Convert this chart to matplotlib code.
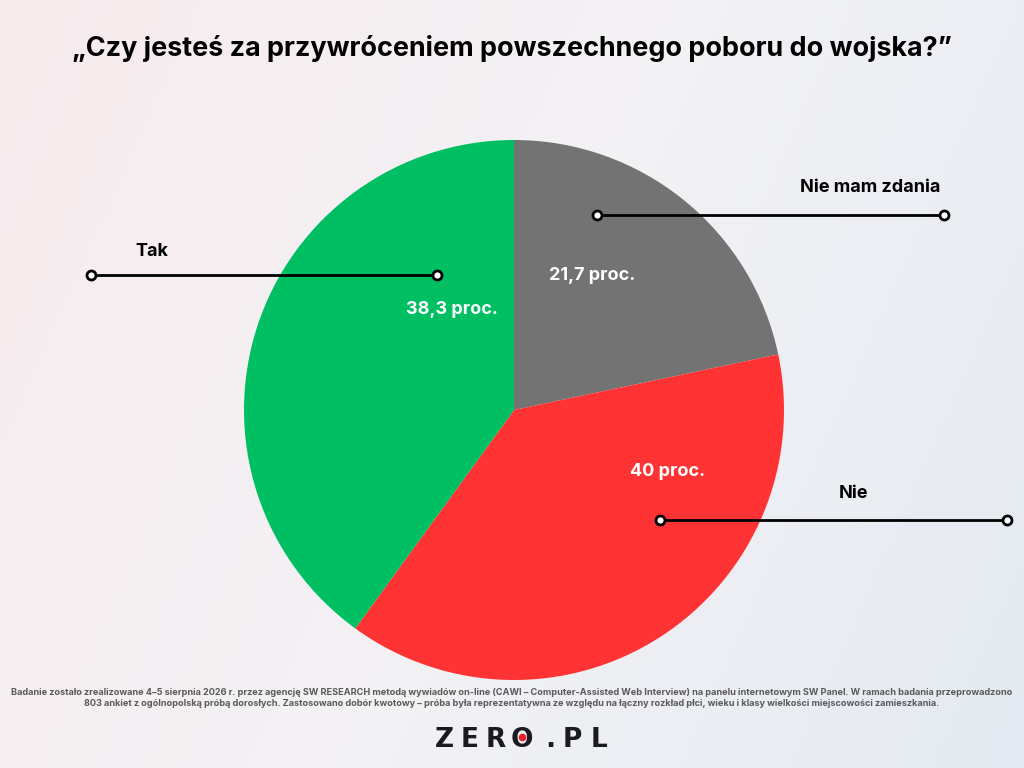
import numpy as np
import matplotlib.pyplot as plt
from matplotlib.colors import LinearSegmentedColormap

plt.rcParams['font.family'] = ['Inter', 'DejaVu Sans']

title = "\u201eCzy jesteś za przywróceniem powszechnego poboru do wojska?\u201d"
labels = ["Nie mam zdania", "Nie", "Tak"]
# slice sizes as drawn in the picture (the red and green wedges look swapped vs. their printed values)
slice_sizes = [21.7, 38.3, 40.0]
value_texts = ["21,7 proc.", "40 proc.", "38,3 proc."]
colors = ["#737373", "#FF3333", "#00BF63"]

footnote = ("Badanie zostało zrealizowane 4\u20135 sierpnia 2026 r. przez agencję SW RESEARCH metodą wywiadów on-line "
            "(CAWI \u2013 Computer-Assisted Web Interview) na panelu internetowym SW Panel. W ramach badania przeprowadzono\n"
            "803 ankiet z ogólnopolską próbą dorosłych. Zastosowano dobór kwotowy \u2013 próba była reprezentatywna ze względu "
            "na łączny rozkład płci, wieku i klasy wielkości miejscowości zamieszkania.")
logo = "ZERO.PL"

W, H = 1024, 768
fig = plt.figure(figsize=(10.24, 7.68), dpi=100)

# background gradient
bg = fig.add_axes([0, 0, 1, 1])
bg.axis('off')
xx, yy = np.meshgrid(np.linspace(0, 1, 200), np.linspace(0, 1, 150))
grad = 0.75 * xx + 0.25 * yy
cmap = LinearSegmentedColormap.from_list("bg", ["#F7EBED", "#F3F2F5", "#E4EAF1"])
bg.imshow(grad, cmap=cmap, aspect='auto', extent=[0, 1, 0, 1], origin='upper')

ax = fig.add_axes([0, 0, 1, 1])
cx, cy, r = 514, H - 410, 270
ax.pie(slice_sizes, colors=colors, startangle=90, counterclock=False,
       center=(cx, cy), radius=r, frame=True,
       wedgeprops=dict(linewidth=0))
ax.set_xlim(0, W)
ax.set_ylim(0, H)
ax.set_aspect('auto')
ax.axis('off')

# value labels inside slices
val_pos = [(592, 276), (668, 472), (452, 310)]
for txt, (x, y) in zip(value_texts, val_pos):
    ax.text(x, H - y, txt, color="white", fontsize=13, fontweight='bold',
            ha='center', va='center')

# leader lines and category labels
lines = [((597, 944), 215, (870, 188)),
         ((660, 1007), 520, (853, 493)),
         ((91, 437), 275, (152, 251))]
for lab, ((x0, x1), y, (tx, ty)) in zip(labels, lines):
    ax.plot([x0, x1], [H - y, H - y], color="black", linewidth=2,
            marker='o', markersize=6.5, markerfacecolor='white',
            markeredgecolor='black', markeredgewidth=2)
    ax.text(tx, H - ty, lab, color="black", fontsize=13, fontweight='bold',
            ha='center', va='center')

ax.text(W / 2, H - 48, title, fontsize=19.4, fontweight='bold', color="black",
        ha='center', va='center')

ax.text(W / 2, H - 698, footnote, fontsize=6.6, fontweight='bold', color="#5A5A5A",
        ha='center', va='center', linespacing=1.2)

# logo, letters placed one by one to get the wide lettering
logo_x = [444, 470, 496, 522, 550, 572, 599]
for ch, x in zip(logo, logo_x):
    ax.text(x, H - 747, ch, fontsize=19, fontweight='bold',
            color="#1A1A22", ha='center', va='baseline', family='DejaVu Sans')
ax.plot(logo_x[3], H - 736.5, 'o', color="#E8202A", markersize=4.5)

fig.savefig("out.png", dpi=100)
